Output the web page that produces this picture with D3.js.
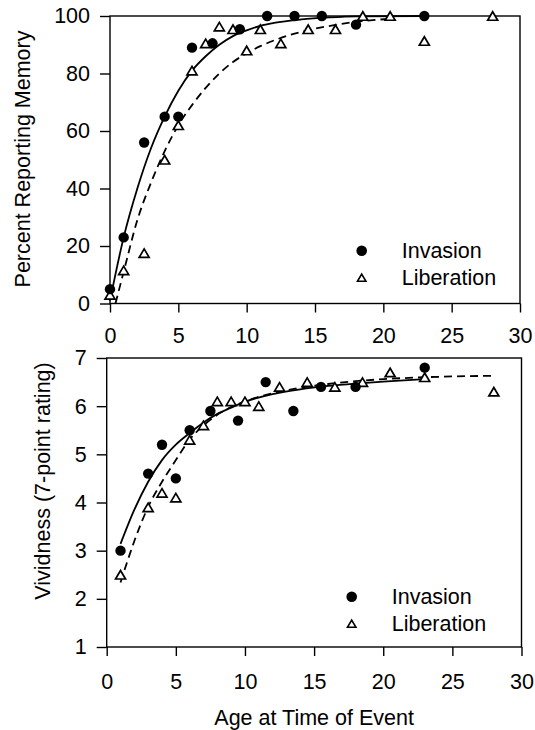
<!DOCTYPE html>
<html lang="en">
<head>
  <meta charset="UTF-8">
  <title>Memory by age at time of event</title>
  <style>
    body { margin: 0; background: #fff; }
    text { font-family: "Liberation Sans", Arial, Helvetica, sans-serif; fill: #000; }
  </style>
</head>
<body>
<svg width="535" height="730"></svg>

<script src="https://cdn.jsdelivr.net/npm/d3@7/dist/d3.min.js"></script>
<script>
  // top panel: percent reporting memory
  var invAgeTop = [0, 1, 2.5, 4, 5, 6, 7.5, 9.5, 11.5, 13.5, 15.5, 18, 23];
  var invPctTop = [5, 23, 56, 65, 65, 89, 90.5, 95.4, 100, 100, 100, 97, 100];
  var libAgeTop = [0, 1, 2.5, 4, 5, 6, 7, 8, 9, 10, 11, 12.5, 14.5, 16.5, 18.5, 20.5, 23, 28];
  var libPctTop = [3, 11.5, 17.5, 50, 62, 81, 90.5, 96.3, 95.4, 88, 95.4, 90.5, 95.4, 95.4, 100, 100, 91.3, 100];
  // fitted curves
  var fitInvTopX = [0, 1, 2, 3, 4, 5, 6, 7, 8, 9, 10, 11, 12, 14, 16, 18, 23];
  var fitInvTopY = [1, 23, 40, 54, 65, 74, 81, 86, 90, 93, 95, 96.6, 97.6, 98.8, 99.5, 99.9, 100];
  var fitLibTopX = [0.4, 1, 2, 3, 4, 5, 6, 7, 8, 9, 10, 11, 12, 14, 16, 18, 20.5];
  var fitLibTopY = [0, 11, 29, 42, 53, 62, 69, 75, 80, 84, 87, 89.5, 91.5, 94.5, 96.5, 98, 99];

  // bottom panel: vividness
  var invAgeBot = [1, 3, 4, 5, 6, 7.5, 9.5, 11.5, 13.5, 15.5, 18, 23];
  var invVivBot = [3.0, 4.6, 5.2, 4.5, 5.5, 5.9, 5.7, 6.5, 5.9, 6.4, 6.4, 6.8];
  var libAgeBot = [1, 3, 4, 5, 6, 7, 8, 9, 10, 11, 12.5, 14.5, 16.5, 18.5, 20.5, 23, 28];
  var libVivBot = [2.5, 3.9, 4.2, 4.1, 5.3, 5.6, 6.1, 6.1, 6.1, 6.0, 6.4, 6.5, 6.4, 6.5, 6.7, 6.6, 6.3];
  var fitInvBotX = [1, 2, 3, 4, 5, 6, 7, 8, 9, 10, 12, 14, 16, 18, 20, 23];
  var fitInvBotY = [3.14, 3.85, 4.43, 4.88, 5.2, 5.44, 5.66, 5.84, 5.97, 6.09, 6.25, 6.35, 6.42, 6.47, 6.51, 6.56];
  var fitLibBotX = [1, 2, 3, 4, 5, 6, 7, 8, 9, 10, 12, 14, 16, 18, 20, 24, 28];
  var fitLibBotY = [2.34, 3.2, 3.91, 4.43, 4.88, 5.31, 5.6, 5.82, 5.98, 6.1, 6.27, 6.38, 6.46, 6.52, 6.56, 6.61, 6.63];

  var xTicks = [0, 5, 10, 15, 20, 25, 30];
  var yTicksTop = [0, 20, 40, 60, 80, 100];
  var yTicksBot = [1, 2, 3, 4, 5, 6, 7];
  var legendNames = ['Invasion', 'Liberation'];

  var svg = d3.select('svg');
  var fontSize = 21.5;

  // triangle centred on its bounding box
  var triangle = {
    draw: function (ctx, size) {
      var w = Math.sqrt(size), h = w * 0.85;
      ctx.moveTo(0, -h / 2);
      ctx.lineTo(w / 2, h / 2);
      ctx.lineTo(-w / 2, h / 2);
      ctx.closePath();
    }
  };

  function zip(a, b) {
    return a.map(function (d, i) { return [d, b[i]]; });
  }

  function panel(opt) {
    var x = d3.scaleLinear().domain([0, 30]).range([opt.left, opt.right]);
    var y = d3.scaleLinear().domain(opt.yDomain).range([opt.bottom, opt.top]);
    var g = svg.append('g');

    var xAxis = d3.axisBottom(x).tickValues(xTicks).tickFormat(d3.format('d'))
      .tickSize(9).tickSizeOuter(0).tickPadding(opt.xPad);
    var yAxis = d3.axisLeft(y).tickValues(opt.yTicks).tickFormat(d3.format('d'))
      .tickSize(10).tickSizeOuter(0).tickPadding(10);

    var gx = g.append('g').attr('transform', `translate(0, ${opt.bottom})`).call(xAxis);
    var gy = g.append('g').attr('transform', `translate(${opt.left}, 0)`).call(yAxis);
    [gx, gy].forEach(function (a) {
      a.select('.domain').remove();
      a.selectAll('line').attr('stroke', '#000').attr('stroke-width', 1.4);
      a.selectAll('text').attr('font-size', fontSize).attr('fill', '#000')
        .style('font-family', '"Liberation Sans", Arial, sans-serif');
    });

    // frame
    g.append('rect')
      .attr('x', opt.left).attr('y', opt.top)
      .attr('width', opt.right - opt.left).attr('height', opt.bottom - opt.top)
      .attr('fill', 'none').attr('stroke', '#000').attr('stroke-width', 1.4);

    var line = d3.line().x(function (d) { return x(d[0]); }).y(function (d) { return y(d[1]); })
      .curve(d3.curveMonotoneX);

    g.append('path').datum(opt.fitInv).attr('d', line)
      .attr('fill', 'none').attr('stroke', '#000').attr('stroke-width', 1.8);
    g.append('path').datum(opt.fitLib).attr('d', line)
      .attr('fill', 'none').attr('stroke', '#000').attr('stroke-width', 1.8)
      .attr('stroke-dasharray', '8,5');

    g.selectAll('.lib').data(opt.lib).enter().append('path')
      .attr('transform', function (d) { return `translate(${x(d[0])}, ${y(d[1])})`; })
      .attr('d', d3.symbol().type(triangle).size(100))
      .attr('fill', '#fff').attr('stroke', '#000').attr('stroke-width', 1.7);

    g.selectAll('.inv').data(opt.inv).enter().append('circle')
      .attr('cx', function (d) { return x(d[0]); })
      .attr('cy', function (d) { return y(d[1]); })
      .attr('r', 5.2).attr('fill', '#000');

    // legend
    var lg = g.append('g').attr('transform', `translate(${opt.legX}, ${opt.legY})`);
    lg.append('circle').attr('cx', 0).attr('cy', 0).attr('r', 5.3).attr('fill', '#000');
    lg.append('path').attr('transform', 'translate(0, 27)')
      .attr('d', d3.symbol().type(triangle).size(72))
      .attr('fill', '#fff').attr('stroke', '#000').attr('stroke-width', 1.6);
    lg.selectAll('text').data(legendNames).enter().append('text')
      .attr('x', 40).attr('y', function (d, i) { return i * 27; })
      .attr('dy', '0.36em').attr('font-size', fontSize)
      .text(function (d) { return d; });

    // y title
    svg.append('text')
      .attr('transform', `translate(${opt.yTitleX}, ${opt.yTitleY}) rotate(-90)`)
      .attr('text-anchor', 'middle').attr('font-size', fontSize)
      .text(opt.yTitle);
  }

  panel({
    left: 110, right: 520, top: 16, bottom: 303.5,
    yDomain: [0, 100], yTicks: yTicksTop, xPad: 15,
    inv: zip(invAgeTop, invPctTop), lib: zip(libAgeTop, libPctTop),
    fitInv: zip(fitInvTopX, fitInvTopY), fitLib: zip(fitLibTopX, fitLibTopY),
    legX: 361.7, legY: 250.7,
    yTitle: 'Percent Reporting Memory', yTitleX: 30, yTitleY: 159
  });

  panel({
    left: 106.7, right: 521.5, top: 358, bottom: 647,
    yDomain: [1, 7], yTicks: yTicksBot, xPad: 18,
    inv: zip(invAgeBot, invVivBot), lib: zip(libAgeBot, libVivBot),
    fitInv: zip(fitInvBotX, fitInvBotY), fitLib: zip(fitLibBotX, fitLibBotY),
    legX: 351.7, legY: 596.7,
    yTitle: 'Vividness (7-point rating)', yTitleX: 50, yTitleY: 481
  });

  svg.append('text')
    .attr('x', (106.7 + 521.5) / 2).attr('y', 725)
    .attr('text-anchor', 'middle').attr('font-size', fontSize)
    .text('Age at Time of Event');
</script>
</body>
</html>
